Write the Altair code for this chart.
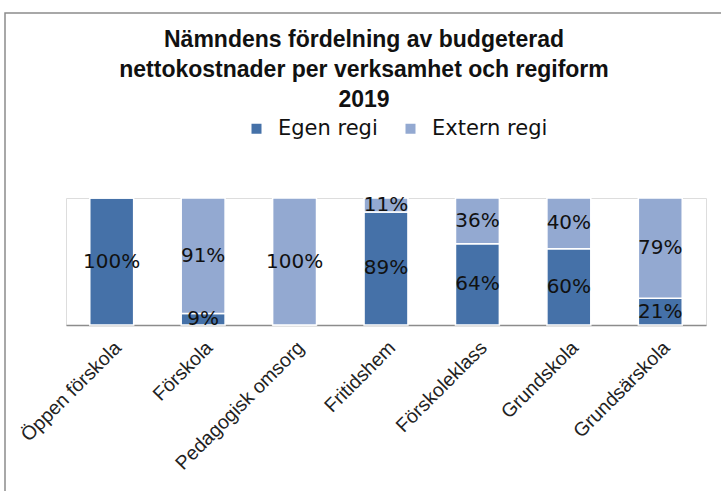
import altair as alt
import pandas as pd

categories = ["Öppen förskola", "Förskola", "Pedagogisk omsorg", "Fritidshem",
              "Förskoleklass", "Grundskola", "Grundsärskola"]
egen_regi = [100, 9, 0, 89, 64, 60, 21]
extern_regi = [0, 91, 100, 11, 36, 40, 79]
series = ["Egen regi", "Extern regi"]
colors = ["#4571A8", "#93A9D1"]
title_lines = ["Nämndens fördelning av budgeterad",
               "nettokostnader per verksamhet och regiform", "2019"]

rows = []
for i, c in enumerate(categories):
    rows.append({"cat": c, "serie": series[0], "val": egen_regi[i], "ord": 0})
    rows.append({"cat": c, "serie": series[1], "val": extern_regi[i], "ord": 1})
df = pd.DataFrame(rows)

x_enc = alt.X("cat:N", sort=categories, title=None,
              scale=alt.Scale(paddingInner=0.52, paddingOuter=0.26),
              axis=alt.Axis(labelAngle=-45, labelFont="Liberation Sans", labelFontSize=19.5,
                            labelColor="#222222", ticks=False, domainColor="#8c8c8c",
                            domainWidth=1.5, labelPadding=13, grid=False))

base = alt.Chart(df).transform_stack(
    stack="val", groupby=["cat"], as_=["y0", "y1"],
    sort=[alt.SortField("ord", order="ascending")]
).transform_calculate(mid="(datum.y0 + datum.y1) / 2")

yscale = alt.Scale(domain=[0, 100])

bars = base.mark_bar(stroke="white", strokeWidth=1.5).encode(
    x=x_enc,
    y=alt.Y("y0:Q", scale=yscale, axis=None),
    y2="y1:Q",
    color=alt.Color("serie:N", scale=alt.Scale(domain=series, range=colors),
                    legend=alt.Legend(title=None, orient="none", direction="horizontal",
                                      legendX=180, legendY=-80, symbolType="square",
                                      symbolSize=100, symbolStrokeWidth=0,
                                      labelFont="DejaVu Sans", labelFontSize=21,
                                      labelColor="#111111", columnPadding=22,
                                      labelOffset=11)),
    order=alt.Order("ord:Q"),
)

labels = base.transform_filter("datum.val > 0").transform_calculate(
    lbl="datum.val + '%'"
).mark_text(font="DejaVu Sans", fontSize=20, color="#111111", baseline="middle").encode(
    x=alt.X("cat:N", sort=categories),
    y=alt.Y("mid:Q", scale=yscale),
    text="lbl:N",
)

frame = alt.Chart(pd.DataFrame({"a": [0]})).mark_rect(
    fill=None, stroke="#8c8c8c", strokeWidth=1.5, clip=False
).encode(x=alt.value(-61), x2=alt.value(700), y=alt.value(-185), y2=alt.value(340))

chart = alt.layer(frame, bars, labels).properties(
    width=640, height=127,
    autosize=alt.AutoSizeParams(type="none"),
    padding={"left": 66, "top": 198, "right": 15, "bottom": 166},
    title=alt.TitleParams(title_lines, anchor="middle", frame="group", dx=-22, offset=-100,
                          font="Liberation Sans", fontSize=23, fontWeight="bold",
                          color="#111111", lineHeight=30),
).configure_view(stroke=None).configure(background="white")

chart.save("out.html", embed_options={"renderer": "svg", "actions": False})
